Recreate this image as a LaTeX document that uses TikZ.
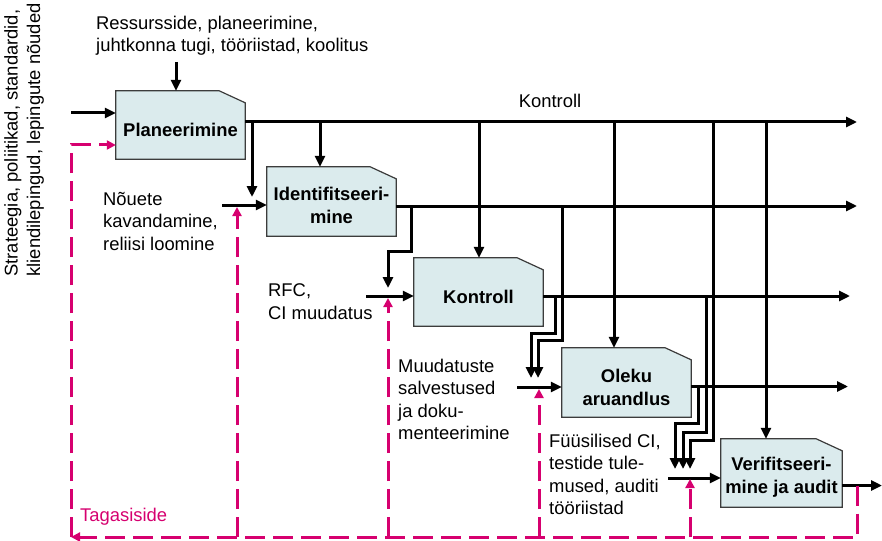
\documentclass[tikz,border=0pt]{standalone}
\usepackage{fontspec}
\setmainfont{Liberation Sans}
\usetikzlibrary{arrows.meta,backgrounds}
\definecolor{boxfill}{RGB}{219,235,237}
\definecolor{boxedge}{RGB}{60,60,60}
\definecolor{fbcol}{RGB}{214,0,111}
\begin{document}
\begin{tikzpicture}[x=1pt,y=-1pt,
  every node/.style={font=\fontsize{18.4}{22.5}\selectfont, inner sep=0pt},
  procbox/.style={minimum width=129pt, minimum height=68pt},
  boxlabel/.style={font=\fontsize{18.4}{23}\selectfont\bfseries, align=center},
  note/.style={align=left, anchor=west},
  flow/.style={line width=3pt, -{Triangle[length=11pt,width=10pt]}},
  fbflow/.style={fbcol, line width=3pt, dash pattern=on 20pt off 8pt,
    -{Triangle[length=9pt,width=9pt]}}]
\useasboundingbox (0,0) rectangle (882,540);

% process boxes
\node[procbox] (plan)  at (180.5,125)   {};
\node[procbox, minimum height=69pt] (ident) at (331.5,201.5) {};
\node[procbox] (kontr) at (478.5,292)   {};
\node[procbox, minimum height=69pt] (olek)  at (626.5,382.5) {};
\node[procbox, minimum width=121pt] (verif) at (781.5,473) {};

\begin{scope}[on background layer]
  \foreach \n in {plan,ident,kontr,olek,verif}
    \draw[fill=boxfill, draw=boxedge, line width=1.2pt]
      (\n.south west) -- (\n.north west) -- ([xshift=-26pt]\n.north east)
      -- ([yshift=-12pt]\n.north east) -- (\n.south east) -- cycle;
\end{scope}

\node[boxlabel] at ([yshift=-5pt]plan.center)  {Planeerimine};
\node[boxlabel] at ([yshift=-4pt]ident.center) {Identifitseeri-\\mine};
\node[boxlabel] at ([yshift=-5pt]kontr.center) {Kontroll};
\node[boxlabel] at ([yshift=-5pt]olek.center)  {Oleku\\aruandlus};
\node[boxlabel] at ([yshift=-4pt]verif.center) {Verifitseeri-\\mine ja audit};

% texts
\node[rotate=90, align=left] (strat) at (24,140)
  {Strateegia, poliitikad, standardid,\\kliendilepingud, lepingute nõuded};
\node[note] (res) at (96,35.5) {Ressursside, planeerimine,\\juhtkonna tugi, tööriistad, koolitus};
\node (kontrlbl) at (550,101) {Kontroll};
\node[note] (nou) at (103,221) {Nõuete\\kavandamine,\\reliisi loomine};
\node[note] (rfc) at (268,301.5) {RFC,\\CI muudatus};
\node[note] (muu) at (398,399.5) {Muudatuste\\salvestused\\ja doku-\\menteerimine};
\node[note] (fyy) at (549,474.5) {Füüsilised CI,\\testide tule-\\mused, auditi\\tööriistad};
\node[note, text=fbcol] (tag) at (80,517) {Tagasiside};

% outputs
\coordinate (planO)  at ([yshift=3pt]plan.east);
\coordinate (identO) at ([yshift=-4.5pt]ident.east);
\coordinate (kontrO) at ([yshift=-4pt]kontr.east);
\coordinate (olekO)  at ([yshift=-4pt]olek.east);
\coordinate (verifO) at ([yshift=-12.5pt]verif.east);
\coordinate (planE)  at (857,122);
\coordinate (identE) at (857,206);
\coordinate (kontrE) at (850,296);
\coordinate (olekE)  at (848,386.5);
\coordinate (verifE) at (882,485.5);
\draw[flow] (planO)  -- (planE);
\draw[flow] (identO) -- (identE);
\draw[flow] (kontrO) -- (kontrE);
\draw[flow] (olekO)  -- (olekE);
\draw[flow] (verifO) -- (verifE);

% inputs
\coordinate (planInS)  at (71,113);
\coordinate (planTopS) at (176,62);
\coordinate (identInS) at (222,205);
\coordinate (kontrInS) at (366,296);
\coordinate (olekInS)  at (517,387);
\coordinate (verifInS) at (668,478);
\draw[flow] (planInS)  -- (planInS -| plan.west);
\draw[flow] (planTopS) -- (planTopS |- plan.north);
\draw[flow] (identInS) -- (identInS -| ident.west);
\draw[flow] (kontrInS) -- (kontrInS -| kontr.west);
\draw[flow] (olekInS)  -- (olekInS -| olek.west);
\draw[flow] (verifInS) -- (verifInS -| verif.west);

% control taps from the planning output
\coordinate (pA) at (252,122); \coordinate (pAt) at (252,197);
\coordinate (pB) at (320,122);
\coordinate (pC) at (479,122);
\coordinate (pD) at (614,122);
\coordinate (pE) at (766,122);
\coordinate (pF) at (713,122); \coordinate (pFt) at (690,469);
\draw[flow] (pA) -- (pAt);
\draw[flow] (pB) -- (pB |- ident.north);
\draw[flow] (pC) -- (pC |- kontr.north);
\draw[flow] (pD) -- (pD |- olek.north);
\draw[flow] (pE) -- (pE |- verif.north);
\draw[flow] (pF) |- (690,440) -- (pFt);

% taps from identification output
\coordinate (iA) at (411,206); \coordinate (iAt) at (388,288);
\coordinate (iB) at (562,206); \coordinate (iBt) at (538,378);
\draw[flow] (iA) |- (388,251) -- (iAt);
\draw[flow] (iB) |- (538,340) -- (iBt);

% taps from control output
\coordinate (kA) at (555,296); \coordinate (kAt) at (531,378);
\coordinate (kB) at (706,296); \coordinate (kBt) at (683,469);
\draw[flow] (kA) |- (531,333) -- (kAt);
\draw[flow] (kB) |- (683,432) -- (kBt);

% tap from status output
\coordinate (oA) at (698,386.5); \coordinate (oAt) at (675,469);
\draw[flow] (oA) |- (675,423) -- (oAt);

% feedback
\coordinate (fbS) at (857,485.5);
\coordinate (fbC) at (71,537);
\coordinate (planFb) at ([yshift=-20pt]plan.west);
\draw[fbflow] (fbS) |- (fbC);
\draw[fbflow] (fbC) |- (planFb);
\coordinate (fA) at (237,537); \coordinate (fAt) at (237,207);
\coordinate (fB) at (388,537); \coordinate (fBt) at (388,298);
\coordinate (fC) at (539,537); \coordinate (fCt) at (539,389);
\coordinate (fD) at (690,537); \coordinate (fDt) at (690,479);
\draw[fbflow] (fA) -- (fAt);
\draw[fbflow] (fB) -- (fBt);
\draw[fbflow] (fC) -- (fCt);
\draw[fbflow] (fD) -- (fDt);
\end{tikzpicture}
\end{document}
